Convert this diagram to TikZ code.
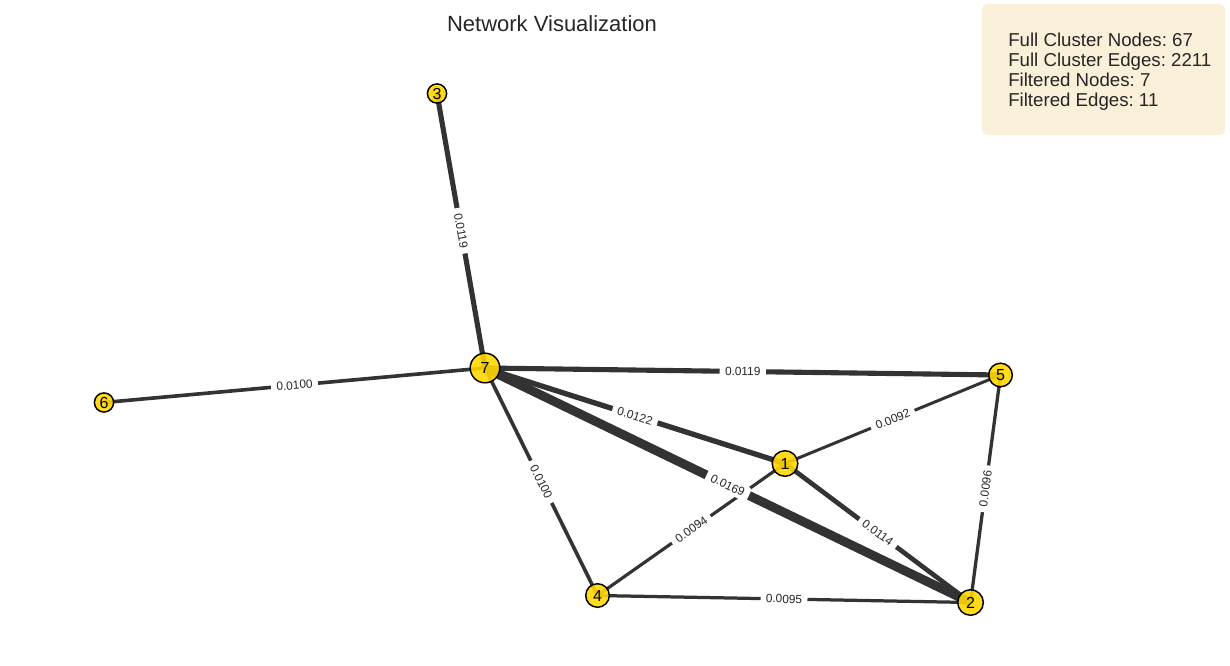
\documentclass[tikz,border=0pt]{standalone}
\usepackage{fontspec}
\setmainfont{Liberation Sans}
\usetikzlibrary{backgrounds}
\definecolor{nodegold}{RGB}{255,215,0}
\definecolor{edgegray}{RGB}{51,51,51}
\definecolor{txtgray}{RGB}{38,38,38}
\definecolor{infobg}{RGB}{250,239,217}
\frenchspacing

\begin{document}
\begin{tikzpicture}[x=0.75pt,y=-0.75pt,
  vert/.style={circle,draw=black,line width=1.1pt,fill=nodegold,fill opacity=0.9,text opacity=1,inner sep=0pt,font=\fontsize{12}{12}\selectfont},
  link/.style={draw=edgegray},
  wlabel/.style={midway,sloped,fill=white,inner xsep=4pt,inner ysep=2.5pt,rounded corners=2pt,font=\fontsize{8.9}{10}\selectfont,text=txtgray}]
  \useasboundingbox (0,0) rectangle (1230,666);
  % title
  \node[anchor=base,font=\fontsize{16.5}{18}\selectfont,text=txtgray] (title) at (552,32) {Network Visualization};
  % vertices
  \node[vert,minimum size=22.2pt] (n7) at (485,368) {7};
  \node[vert,minimum size=19.2pt] (n1) at (785,463.5) {1};
  \node[vert,minimum size=19.2pt] (n2) at (970.5,602.5) {2};
  \node[vert,minimum size=17.7pt] (n5) at (1000.5,375) {5};
  \node[vert,minimum size=17.7pt] (n4) at (597.5,595.5) {4};
  \node[vert,minimum size=14.4pt] (n3) at (437,93.5) {3};
  \node[vert,minimum size=14.4pt] (n6) at (104,402.5) {6};
  % weighted edges
  \begin{scope}[on background layer]
    \draw[link,line width=2.37pt] (n4.center) -- node[wlabel]{0.0094} (n1.center);
    \draw[link,line width=3.83pt] (n3.center) -- node[wlabel]{0.0119} (n7.center);
    \draw[link,line width=2.72pt] (n6.center) -- node[wlabel]{0.0100} (n7.center);
    \draw[link,line width=3.83pt] (n7.center) -- node[wlabel]{0.0119} (n5.center);
    \draw[link,line width=4pt] (n7.center) -- node[wlabel]{0.0122} (n1.center);
    \draw[link,line width=6.75pt] (n7.center) -- node[wlabel]{0.0169} (n2.center);
    \draw[link,line width=2.72pt] (n7.center) -- node[wlabel]{0.0100} (n4.center);
    \draw[link,line width=2.25pt] (n1.center) -- node[wlabel]{0.0092} (n5.center);
    \draw[link,line width=3.53pt] (n1.center) -- node[wlabel]{0.0114} (n2.center);
    \draw[link,line width=2.43pt] (n4.center) -- node[wlabel]{0.0095} (n2.center);
    \draw[link,line width=2.48pt] (n2.center) -- node[wlabel]{0.0096} (n5.center);
  \end{scope}
  % info box
  \fill[infobg,rounded corners=4pt] (982,4) rectangle (1225,135);
  \node[anchor=north west,align=left,inner sep=0pt,font=\fontsize{14}{15}\selectfont,text=txtgray] (info) at (1008,33) {Full Cluster Nodes: 67\\Full Cluster Edges: 2211\\Filtered Nodes: 7\\Filtered Edges: 11};
\end{tikzpicture}
\end{document}
